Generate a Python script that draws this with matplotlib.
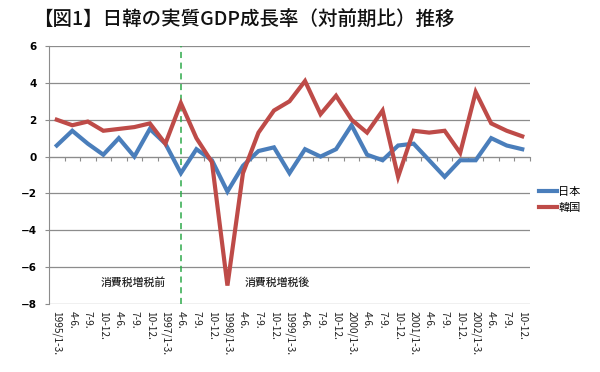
import matplotlib
matplotlib.use("Agg")
import matplotlib.pyplot as plt
import numpy as np

plt.rcParams['font.family'] = ['Noto Sans CJK JP', 'DejaVu Sans']

quarters = ["1995/1-3.", "4-6.", "7-9.", "10-12.",
            "4-6.", "7-9.", "10-12.",
            "1997/1-3.", "4-6.", "7-9.", "10-12.",
            "1998/1-3.", "4-6.", "7-9.", "10-12.",
            "1999/1-3.", "4-6.", "7-9.", "10-12.",
            "2000/1-3.", "4-6.", "7-9.", "10-12.",
            "2001/1-3.", "4-6.", "7-9.", "10-12.",
            "2002/1-3.", "4-6.", "7-9.", "10-12."]

japan = [0.6, 1.4, 0.7, 0.1, 1.0, 0.0, 1.5, 0.7, -0.9, 0.4, -0.2,
         -1.9, -0.5, 0.3, 0.5, -0.9, 0.4, 0.0, 0.4, 1.7, 0.1, -0.2,
         0.6, 0.7, -0.2, -1.1, -0.2, -0.2, 1.0, 0.6, 0.4]
korea = [2.0, 1.7, 1.9, 1.4, 1.5, 1.6, 1.8, 0.7, 2.9, 1.0, -0.3,
         -7.0, -0.9, 1.3, 2.5, 3.0, 4.1, 2.3, 3.3, 2.0, 1.3, 2.5,
         -1.1, 1.4, 1.3, 1.4, 0.2, 3.5, 1.8, 1.4, 1.1]

series_names = ["日本", "韓国"]
tax_hike_index = 8  # 1997/4-6
title = "【図1】日韓の実質GDP成長率（対前期比）推移"
note_before = "消費税増税前"
note_after = "消費税増税後"

fig = plt.figure(figsize=(6, 3.72), dpi=100)
ax = fig.add_axes([49/600, 1-304/372, (530-49)/600, (304-46)/372])

x = np.arange(len(quarters))
l1, = ax.plot(x, japan, color='#4A7EBB', lw=3.0, solid_joinstyle='miter', label=series_names[0], zorder=3)
l2, = ax.plot(x, korea, color='#BE4B48', lw=3.0, solid_joinstyle='miter', label=series_names[1], zorder=3)

ax.set_xlim(-0.5, len(quarters) - 0.5)
ax.set_ylim(-8, 6)
ax.set_yticks(np.arange(-8, 7, 2))
ax.yaxis.grid(True, color='#8c8c8c', lw=0.9)
ax.set_axisbelow(True)

for s in ['top', 'right']:
    ax.spines[s].set_visible(False)
ax.spines['left'].set_color('#8c8c8c')
ax.spines['bottom'].set_position(('data', 0))
ax.spines['bottom'].set_color('#8c8c8c')

ax.set_xticks(np.arange(-0.5, len(quarters), 1.0))
ax.tick_params(axis='x', length=3, color='#8c8c8c', labelbottom=False)
ax.tick_params(axis='y', length=3, color='#8c8c8c', labelsize=7.5, pad=6)
for lab in ax.get_yticklabels():
    lab.set_fontweight('bold')
    lab.set_fontfamily(['DejaVu Sans'])

sec = ax.secondary_xaxis(0)
sec.set_xticks(x)
sec.set_xticklabels(quarters, rotation=-90, fontsize=7.3, va='top', ha='center', color='#222222')
sec.tick_params(length=0, pad=5)
sec.spines['bottom'].set_visible(False)

ax.axvline(tax_hike_index, color='#2EAA4A', lw=1.1, ls=(0, (4, 3)), zorder=2)

ax.text(4.9, -6.85, note_before, fontsize=7.8, ha='center', va='center', color='#222222', fontweight='medium')
ax.text(14.2, -6.85, note_after, fontsize=7.8, ha='center', va='center', color='#222222', fontweight='medium')

fig.text(33/600, 1-20/372, title, fontsize=14, ha='left', va='center', color='#111111', fontweight='medium')

fig.legend(handles=[l1, l2], loc='center left', bbox_to_anchor=(535/600, 1-200/372),
           frameon=False, fontsize=8, handlelength=1.6, handletextpad=0.1,
           labelspacing=0.5, borderaxespad=0)

fig.savefig("out.png", dpi=100)
